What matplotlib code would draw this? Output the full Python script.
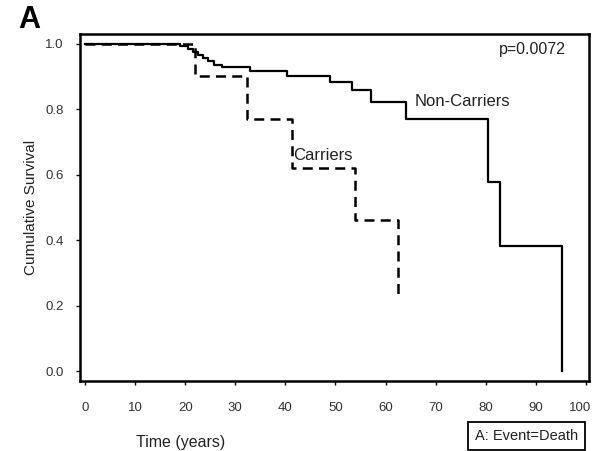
import matplotlib
matplotlib.use("Agg")
import matplotlib.pyplot as plt
import matplotlib.transforms as mtransforms

plt.rcParams['font.family'] = ['Liberation Sans', 'DejaVu Sans']

# Kaplan-Meier steps
noncarrier_time = [0, 19, 20.5, 21.5, 22.5, 23.5, 24.5, 25.8, 27.3, 33, 40.3, 49, 53.3, 57, 64, 80.4, 82.8, 95.3]
noncarrier_surv = [1.0, 0.992, 0.984, 0.975, 0.966, 0.956, 0.946, 0.936, 0.929, 0.917, 0.902, 0.883, 0.860, 0.823, 0.770, 0.577, 0.382, 0.0]

carrier_time = [0, 22, 32.3, 41.3, 53.9, 62.4]
carrier_surv = [1.0, 0.90, 0.77, 0.62, 0.462, 0.227]

x_ticks = [0, 10, 20, 30, 40, 50, 60, 70, 80, 90, 100]
y_ticks = [0.0, 0.2, 0.4, 0.6, 0.8, 1.0]

fig = plt.figure(figsize=(5.93, 4.51), dpi=100)
ax = fig.add_axes([0.135, 0.155, 0.858, 0.77])

ax.step(noncarrier_time, noncarrier_surv, where='post', color='black', lw=1.6)
ax.step(carrier_time, carrier_surv, where='post', color='black', lw=1.8,
        linestyle=(0, (4, 2.5)))

ax.set_xlim(-1, 100.6)
ax.set_ylim(-0.03, 1.03)
ax.set_xticks(x_ticks)
ax.set_yticks(y_ticks)
ax.set_xticklabels([str(t) for t in x_ticks])
ax.set_yticklabels([f"{t:.1f}" for t in y_ticks])
ax.tick_params(axis='both', direction='out', length=3, width=1, labelsize=9.5,
               colors='black', labelcolor='#333333')
ax.tick_params(axis='x', pad=12)
ax.tick_params(axis='y', pad=9)
for s in ax.spines.values():
    s.set_linewidth(1.8)

# keep the last x label inside the figure
last = ax.get_xticklabels()[-1]
last.set_transform(last.get_transform() + mtransforms.ScaledTranslation(-4 / 72, 0, fig.dpi_scale_trans))

ax.set_ylabel("Cumulative Survival", fontsize=11, color='#222222', labelpad=5)
ax.set_xlabel("Time (years)", fontsize=11.5, color='#222222')
ax.xaxis.set_label_coords(0.197, -0.155)

ax.text(0.955, 0.955, "p=0.0072", transform=ax.transAxes, ha='right', va='center',
        fontsize=11.5, color='#222222')
ax.text(65.8, 0.823, "Non-Carriers", ha='left', va='center', fontsize=12, color='#222222')
ax.text(41.6, 0.66, "Carriers", ha='left', va='center', fontsize=12, color='#222222')

fig.text(0.05, 0.955, "A", fontsize=22, fontweight='bold', ha='center', va='center')
fig.text(0.888, 0.033, "A: Event=Death", fontsize=10.5, ha='center', va='center', color='#222222',
         bbox=dict(boxstyle='square,pad=0.5', facecolor='white', edgecolor='black', lw=1.3))

fig.savefig("out.png", dpi=100)
